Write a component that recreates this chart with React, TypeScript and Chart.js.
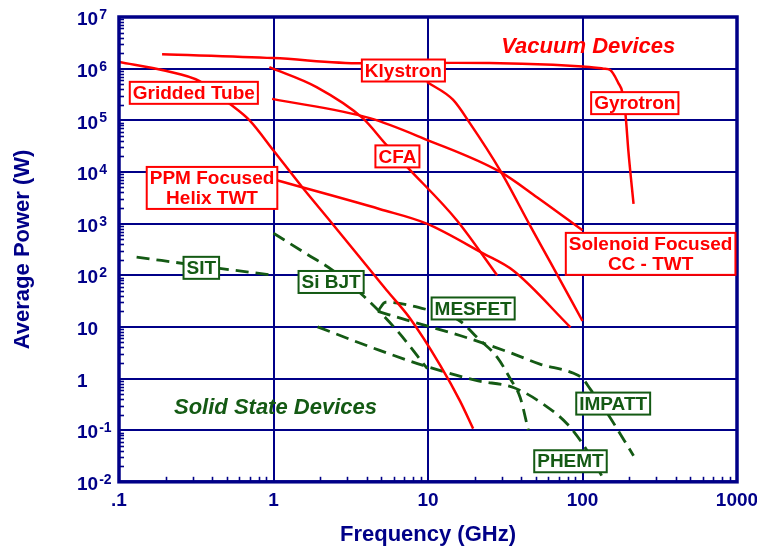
import React, { useEffect, useRef } from 'react';
import { Chart, registerables } from 'chart.js';

Chart.register(...registerables);

const NAVY = '#000088';
const RED = '#ff0000';
const GREEN = '#145a14';
const FONT = "'Liberation Sans', Arial, sans-serif";

// Axis ticks
const xTickValues = [0.1, 1, 10, 100, 1000];
const xTickLabels = ['.1', '1', '10', '100', '1000'];
const yTickValues = [0.01, 0.1, 1, 10, 100, 1e3, 1e4, 1e5, 1e6, 1e7];
const yTickBase = ['10', '10', '1', '10', '10', '10', '10', '10', '10', '10'];
const yTickExp = ['-2', '-1', '', '', '2', '3', '4', '5', '6', '7'];

// Vacuum devices (frequency GHz, average power W)
const griddedF = [0.1, 0.2, 0.33, 0.52, 0.7, 1, 1.54, 2.31, 5.4, 7.6, 12, 16.1, 19.6];
const griddedP = [1.34e6, 9.1e5, 5.8e5, 2.1e5, 1e5, 2.6e4, 5e3, 1.15e3, 51, 15, 1.8, 0.37, 0.107];
const gyrotronF = [0.19, 1, 3.7, 15, 100, 137, 151, 171, 181, 190, 198, 214];
const gyrotronP = [1.9e6, 1.6e6, 1.27e6, 1.3e6, 1.1e6, 1.0e6, 9.4e5, 5.2e5, 3.5e5, 1.26e5, 2.6e4, 2.4e3];
const klystronF = [9.85, 14.5, 18.7, 29.3, 45.7, 62, 100];
const klystronP = [5.5e5, 2.5e5, 8.7e4, 1.07e4, 925, 177, 13];
const cfaF = [0.94, 1.9, 3.78, 5.4, 7.42, 15.4, 28];
const cfaP = [1.07e6, 4.4e5, 1.1e5, 3.3e4, 1.2e4, 1.15e3, 100];
const solenoidF = [0.98, 4.2, 10, 29.3, 51, 100];
const solenoidP = [2.6e5, 1.1e5, 4.1e4, 1e4, 3.2e3, 740];
const ppmF = [1.05, 4.9, 9.8, 22.7, 35.6, 83.6];
const ppmP = [6.9e3, 1.9e3, 1e3, 265, 123, 9.8];

// Solid state devices
const sitF = [0.13, 0.4, 1];
const sitP = [225, 142, 100];
const siBjtF = [1, 1.6, 2.42, 3.78, 6.3, 9.9];
const siBjtP = [650, 270, 124, 41, 8.5, 1.55];
const mesfetF = [4.74, 5.3, 10.2, 16.1, 20.8, 28, 34, 39.5, 44.6];
const mesfetP = [20, 30, 21, 13, 6.2, 2.6, 1.0, 0.43, 0.1];
const impattF = [4.74, 7.6, 16.1, 35.7, 53, 87.6, 100, 112, 145, 214];
const impattP = [20, 13, 6.8, 3.0, 1.9, 1.26, 1.0, 0.63, 0.21, 0.032];
const phemtF = [1.93, 4.87, 9.3, 20.8, 35.7, 55.7, 80, 100, 139];
const phemtP = [10, 3.5, 1.8, 0.91, 0.67, 0.32, 0.13, 0.055, 0.0105];

// Boxed labels: text lines, anchor (GHz, W), kind
const boxTexts = [['Gridded Tube'], ['PPM Focused', 'Helix TWT'], ['Klystron'], ['CFA'], ['Gyrotron'], ['Solenoid Focused', 'CC - TWT'], ['SIT'], ['Si BJT'], ['MESFET'], ['IMPATT'], ['PHEMT']];
const boxF = [0.305, 0.40, 6.93, 6.34, 218, 276, 0.341, 2.36, 19.6, 158, 83.6];
const boxP = [3.4e5, 4.9e3, 9.2e5, 2.0e4, 2.15e5, 259, 139, 74, 22.7, 0.327, 0.025];
const boxKind = ['v', 'v', 'v', 'v', 'v', 'v', 's', 's', 's', 's', 's'];

// Group titles
const groupTexts = ['Vacuum Devices', 'Solid State Devices'];
const groupF = [109, 1.03];
const groupP = [2.6e6, 0.273];
const groupKind = ['v', 's'];

const toPts = (f: number[], p: number[]) => f.map((v, i) => ({ x: v, y: p[i] }));

const decorPlugin = {
  id: 'decor',
  afterDatasetsDraw(chart: any) {
    const { ctx, chartArea: a, scales } = chart;
    const x = scales.x;
    const y = scales.y;
    ctx.save();
    // minor ticks
    ctx.strokeStyle = NAVY;
    ctx.lineWidth = 1.6;
    for (let e = -2; e < 7; e++) {
      for (let k = 2; k < 10; k++) {
        const py = Math.round(y.getPixelForValue(k * Math.pow(10, e))) + 0.5;
        ctx.beginPath();
        ctx.moveTo(a.left, py);
        ctx.lineTo(a.left + 5, py);
        ctx.stroke();
      }
    }
    for (let e = -1; e < 3; e++) {
      for (let k = 2; k < 10; k++) {
        const px = Math.round(x.getPixelForValue(k * Math.pow(10, e))) + 0.5;
        ctx.beginPath();
        ctx.moveTo(px, a.bottom);
        ctx.lineTo(px, a.bottom - 5);
        ctx.stroke();
      }
    }
    // frame
    ctx.lineWidth = 3.5;
    ctx.strokeRect(a.left, a.top, a.right - a.left, a.bottom - a.top);

    // y tick labels with superscripts
    ctx.fillStyle = NAVY;
    for (let i = 0; i < yTickValues.length; i++) {
      const py = y.getPixelForValue(yTickValues[i]) + 3;
      const lx = 77;
      ctx.font = `bold 19px ${FONT}`;
      ctx.textAlign = 'left';
      ctx.textBaseline = 'middle';
      ctx.fillText(yTickBase[i], lx, py);
      if (yTickExp[i]) {
        const w = ctx.measureText(yTickBase[i]).width;
        ctx.font = `bold 14px ${FONT}`;
        ctx.textBaseline = 'alphabetic';
        ctx.fillText(yTickExp[i], lx + w + 1, py - 1);
      }
    }

    // boxed labels
    ctx.font = `bold 19px ${FONT}`;
    ctx.textAlign = 'center';
    ctx.textBaseline = 'middle';
    for (let i = 0; i < boxTexts.length; i++) {
      const lines = boxTexts[i];
      const cx = x.getPixelForValue(boxF[i]);
      const cy = y.getPixelForValue(boxP[i]);
      const col = boxKind[i] === 'v' ? RED : GREEN;
      const tw = Math.max(...lines.map((t) => ctx.measureText(t).width));
      const bw = tw + 6;
      const bh = lines.length * 20 + 2;
      ctx.fillStyle = '#ffffff';
      ctx.fillRect(cx - bw / 2, cy - bh / 2, bw, bh);
      ctx.strokeStyle = col;
      ctx.lineWidth = 2;
      ctx.strokeRect(cx - bw / 2, cy - bh / 2, bw, bh);
      ctx.fillStyle = col;
      lines.forEach((t, j) => {
        ctx.fillText(t, cx, cy - bh / 2 + 1 + 20 * j + 11);
      });
    }

    // group titles
    ctx.font = `italic bold 22px ${FONT}`;
    for (let i = 0; i < groupTexts.length; i++) {
      ctx.fillStyle = groupKind[i] === 'v' ? RED : GREEN;
      ctx.fillText(groupTexts[i], x.getPixelForValue(groupF[i]), y.getPixelForValue(groupP[i]));
    }
    ctx.restore();
  },
};

function lineDs(label: string, f: number[], p: number[], color: string, dashed: boolean) {
  return {
    label,
    data: toPts(f, p),
    borderColor: color,
    backgroundColor: color,
    borderWidth: dashed ? 2.8 : 2.5,
    borderDash: dashed ? [13, 7] : [],
    pointRadius: 0,
    fill: false,
    cubicInterpolationMode: 'monotone',
  };
}

export default function App() {
  const ref = useRef<HTMLCanvasElement>(null);
  useEffect(() => {
    if (!ref.current) return;
    const chart = new Chart(ref.current, {
      type: 'line',
      data: {
        datasets: [
          lineDs('Gridded Tube', griddedF, griddedP, RED, false),
          lineDs('Gyrotron', gyrotronF, gyrotronP, RED, false),
          lineDs('Klystron', klystronF, klystronP, RED, false),
          lineDs('CFA', cfaF, cfaP, RED, false),
          lineDs('Solenoid Focused CC-TWT', solenoidF, solenoidP, RED, false),
          lineDs('PPM Focused Helix TWT', ppmF, ppmP, RED, false),
          lineDs('SIT', sitF, sitP, GREEN, true),
          lineDs('Si BJT', siBjtF, siBjtP, GREEN, true),
          lineDs('MESFET', mesfetF, mesfetP, GREEN, true),
          lineDs('IMPATT', impattF, impattP, GREEN, true),
          lineDs('PHEMT', phemtF, phemtP, GREEN, true),
        ] as any,
      },
      options: {
        responsive: false,
        animation: false,
        layout: { padding: { left: 0, top: 17, right: 20, bottom: 0 } },
        plugins: { legend: { display: false }, tooltip: { enabled: false } },
        scales: {
          x: {
            type: 'logarithmic',
            min: 0.1,
            max: 1000,
            afterBuildTicks: (s: any) => {
              s.ticks = xTickValues.map((v) => ({ value: v }));
            },
            afterFit: (s: any) => {
              s.paddingLeft = 0;
              s.paddingRight = 0;
            },
            grid: { color: NAVY, lineWidth: 2, drawTicks: false },
            border: { display: false },
            ticks: {
              autoSkip: false,
              maxRotation: 0,
              padding: 8,
              color: NAVY,
              font: { family: FONT, size: 19, weight: 'bold' },
              callback: (_v: any, i: number) => xTickLabels[i],
            },
            title: {
              display: true,
              text: 'Frequency (GHz)',
              color: NAVY,
              font: { family: FONT, size: 22, weight: 'bold' },
              padding: { top: 1, bottom: 2 },
            },
          },
          y: {
            type: 'logarithmic',
            min: 0.01,
            max: 1e7,
            afterBuildTicks: (s: any) => {
              s.ticks = yTickValues.map((v) => ({ value: v }));
            },
            grid: { color: NAVY, lineWidth: 2, drawTicks: false },
            border: { display: false },
            ticks: { display: false },
            title: {
              display: true,
              text: 'Average Power (W)',
              color: NAVY,
              font: { family: FONT, size: 22, weight: 'bold' },
              padding: { top: 10, bottom: 82.6 },
            },
          },
        },
      } as any,
      plugins: [decorPlugin],
    });
    return () => chart.destroy();
  }, []);
  return (
    <div style={{ position: 'absolute', left: 0, top: 0, width: 757, height: 550, background: '#fff' }}>
      <canvas ref={ref} width={757} height={550} style={{ display: 'block' }} />
    </div>
  );
}
